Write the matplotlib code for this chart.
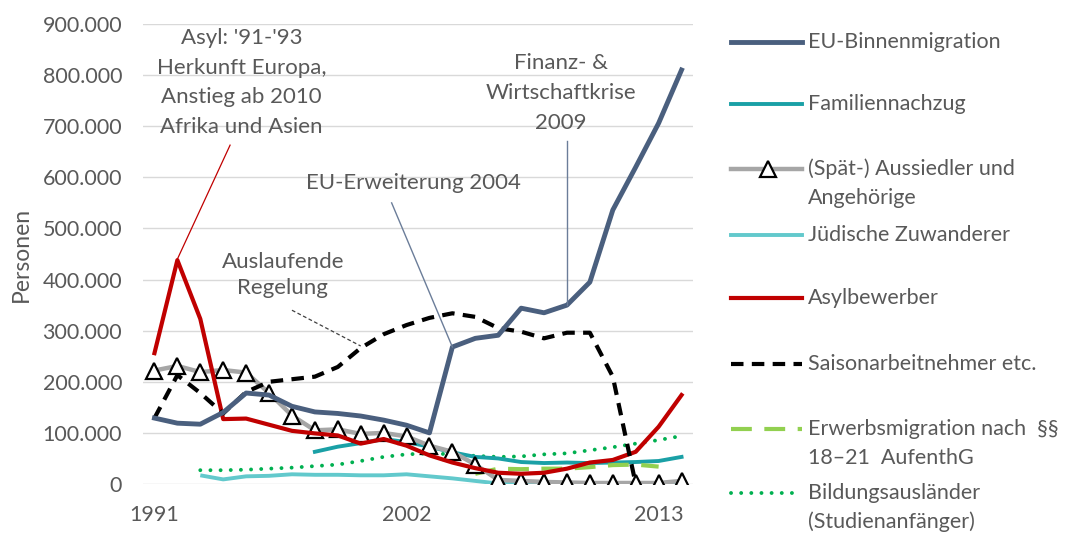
import numpy as np
import matplotlib
matplotlib.use("Agg")
import matplotlib.pyplot as plt
from matplotlib.lines import Line2D

plt.rcParams['font.family'] = ['Lato', 'DejaVu Sans']

nan = np.nan
years = list(range(1991, 2015))
tick_years = [1991, 2002, 2013]

# values in thousand persons
eu_binnen = [129, 119, 117, 140, 178, 174, 152, 141, 138, 133, 125, 115, 100,
             268, 285, 291, 344, 335, 350, 395, 536, 620, 706, 810]
familie = [nan] * 7 + [63, 73, 80, 88, 82, 73, 62, 53, 50, 43, 41, 42, 41,
                       42, 43, 45, 53]
aussiedler = [222, 231, 219, 223, 218, 178, 134, 105, 107, 98, 100, 93, 75,
              63, 38, 8, 6, 4, 3, 2, 2, 2, 2, 6]
juedisch = [nan, nan, 17, 9, 15, 16, 19, 18, 18, 17, 17, 19, 15, 11, 6, 1, 2,
            1, 1, 1, 1, 0.5, 0.2, 0.2]
asyl = [256, 438, 323, 127, 128, 116, 104, 99, 95, 79, 88, 75, 56, 42, 31,
        22, 20, 22, 30, 42, 47, 63, 112, 174]
saison = [129, 213, 178, 138, 180, 200, 205, 210, 229, 266, 293, 311, 325,
          334, 327, 305, 298, 285, 296, 296, 210, 0, nan, nan]
erwerb = [nan] * 14 + [20, 30, 29, 30, 30, 33, 37, 38, 34, nan]
bildung = [nan, nan, 27, 27, 28, 30, 32, 35, 38, 45, 53, 58, 60, 58, 55, 53,
           54, 58, 60, 66, 72, 79, 86, 94]

def k(v):
    return np.array(v, dtype=float) * 1000

TXT = '#595959'
c_eu = '#4a5f7e'
c_fam = '#1aa0a6'
c_aus = '#a6a6a6'
c_jued = '#62c9cc'
c_asyl = '#c00000'
c_erw = '#92d050'
c_bild = '#00b050'

dash_saison = (0, (3, 2))

fig = plt.figure(figsize=(10.69, 5.36), dpi=100)
W, H = 1069, 536
ax = fig.add_axes([143 / W, 1 - 484 / H, 550 / W, 460 / H])

ax.plot(years, k(juedisch), color=c_jued, lw=2.8, solid_capstyle='butt')
ax.plot(years, k(bildung), color=c_bild, lw=2.8, linestyle=(0, (0.01, 2.6)),
        dash_capstyle='round')
ax.plot(years, k(familie), color=c_fam, lw=2.8)
ax.plot(years, k(erwerb), color=c_erw, lw=3, linestyle=(0, (5, 3)))
ax.plot(years, k(aussiedler), color=c_aus, lw=3.2, marker='^', markersize=11,
        markerfacecolor='white', markeredgecolor='black', markeredgewidth=1.6)
ax.plot(years, k(asyl), color=c_asyl, lw=3)
ax.plot(years, k(saison), color='black', lw=3, linestyle=dash_saison)
ax.plot(years, k(eu_binnen), color=c_eu, lw=3.5)

ax.set_xlim(1990.5, 2014.5)
ax.set_ylim(0, 900000)
ax.set_yticks(np.arange(0, 900001, 100000))
ax.set_yticklabels(['0'] + [f'{v}.000' for v in range(100, 901, 100)])
ax.set_xticks(tick_years)
ax.set_xticklabels([str(y) for y in tick_years])
ax.tick_params(length=0, labelsize=15.5, colors=TXT)
ax.tick_params(axis='y', pad=15)
ax.tick_params(axis='x', pad=15)
ax.grid(axis='y', color='#d9d9d9', lw=1)
ax.set_axisbelow(True)
for s in ax.spines.values():
    s.set_visible(False)
ax.set_ylabel('Personen', fontsize=16.5, color=TXT, labelpad=8)

# annotations, one text line at a time (thousand persons for y)
afs = 16
notes = [
    (1994.8, [872.6, 813.9, 757.2, 698.5],
     ["Asyl: '91-'93", "Herkunft Europa,", "Anstieg ab 2010", "Afrika und Asien"]),
    (2008.74, [823.7, 765.0, 706.3], ["Finanz- &", "Wirtschaftkrise", "2009"]),
    (2002.3, [588.9], ["EU-Erweiterung 2004"]),
    (1996.6, [434.3, 383.5], ["Auslaufende", "Regelung"]),
]
for xn, ys, lines in notes:
    for yn, txt in zip(ys, lines):
        ax.text(xn, yn * 1000, txt, ha='center', va='center', fontsize=afs, color=TXT)

ax.plot([1994.3, 1992], [663000, 440000], color=c_asyl, lw=0.9)
ax.plot([2009, 2009], [672000, 350000], color='#6b7d99', lw=1)
ax.plot([2001.35, 2004], [550000, 268000], color='#6b7d99', lw=1)
ax.plot([1997, 2000], [340000, 270000], color='#404040', lw=0.9,
        linestyle=(0, (3, 2)))

# legend drawn by hand to follow the irregular row spacing
def fx(x):
    return x / W

def fy(y):
    return 1 - y / H

lfs = 15.5
x0, x1, tx = 731, 802, 808
rows = [
    (42, ['EU-Binnenmigration'], dict(color=c_eu, lw=3.5)),
    (104, ['Familiennachzug'], dict(color=c_fam, lw=2.8)),
    (169, ['(Spät-) Aussiedler und', 'Angehörige'], dict(color=c_aus, lw=3.2)),
    (235, ['Jüdische Zuwanderer'], dict(color=c_jued, lw=2.8)),
    (298, ['Asylbewerber'], dict(color=c_asyl, lw=3)),
    (364, ['Saisonarbeitnehmer etc.'], dict(color='black', lw=3, linestyle=dash_saison)),
    (429, ['Erwerbsmigration nach  §§', '18–21  AufenthG'], dict(color=c_erw, lw=3, linestyle=(0, (5, 3)))),
    (493, ['Bildungsausländer', '(Studienanfänger)'], dict(color=c_bild, lw=2.8, linestyle=(0, (0.01, 2.6)), dash_capstyle='round')),
]
for y, labels, style in rows:
    fig.add_artist(Line2D([fx(x0), fx(x1)], [fy(y), fy(y)], transform=fig.transFigure, **style))
    for i, lab in enumerate(labels):
        fig.text(fx(tx), fy(y + i * 29), lab, fontsize=lfs, color=TXT, va='center', ha='left')
fig.add_artist(Line2D([fx(768)], [fy(169)], transform=fig.transFigure, marker='^',
                      markersize=11, markerfacecolor='white', markeredgecolor='black',
                      markeredgewidth=1.6, linestyle='none'))

fig.savefig('out.png', dpi=100, facecolor='white')
